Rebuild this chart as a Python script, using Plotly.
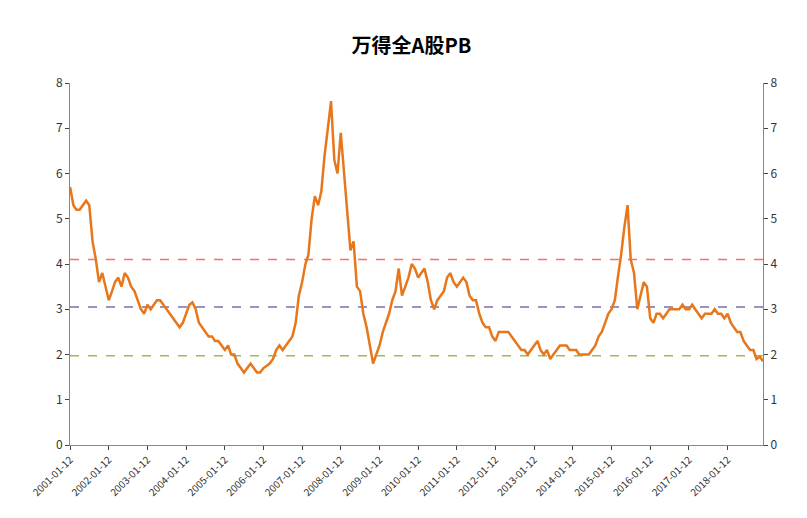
import plotly.graph_objects as go
import pandas as pd

# monthly PB values, 2001-01 .. 2018-12
pb = [
    5.7, 5.3, 5.2, 5.2, 5.3, 5.4, 5.3, 4.5, 4.1, 3.6, 3.8, 3.5,
    3.2, 3.4, 3.6, 3.7, 3.5, 3.8, 3.7, 3.5, 3.4, 3.2, 3.0, 2.9,
    3.1, 3.0, 3.1, 3.2, 3.2, 3.1, 3.0, 2.9, 2.8, 2.7, 2.6, 2.7,
    2.9, 3.1, 3.15, 3.0, 2.7, 2.6, 2.5, 2.4, 2.4, 2.3, 2.3, 2.2,
    2.1, 2.2, 2.0, 2.0, 1.8, 1.7, 1.6, 1.7, 1.8, 1.7, 1.6, 1.6,
    1.7, 1.75, 1.8, 1.9, 2.1, 2.2, 2.1, 2.2, 2.3, 2.4, 2.7, 3.3,
    3.6, 4.0, 4.2, 5.0, 5.5, 5.3, 5.6, 6.4, 7.0, 7.6, 6.3, 6.0,
    6.9, 6.0, 5.0, 4.3, 4.5, 3.5, 3.4, 2.9, 2.6, 2.2, 1.8, 2.0,
    2.2, 2.5, 2.7, 2.9, 3.2, 3.4, 3.9, 3.3, 3.5, 3.7, 4.0, 3.9,
    3.7, 3.8, 3.9, 3.6, 3.2, 3.0, 3.2, 3.3, 3.4, 3.7, 3.8, 3.6,
    3.5, 3.6, 3.7, 3.6, 3.3, 3.2, 3.2, 2.9, 2.7, 2.6, 2.6, 2.4,
    2.3, 2.5, 2.5, 2.5, 2.5, 2.4, 2.3, 2.2, 2.1, 2.1, 2.0, 2.1,
    2.2, 2.3, 2.1, 2.0, 2.1, 1.9, 2.0, 2.1, 2.2, 2.2, 2.2, 2.1,
    2.1, 2.1, 2.0, 2.0, 2.0, 2.0, 2.1, 2.2, 2.4, 2.5, 2.7, 2.9,
    3.0, 3.2, 3.7, 4.2, 4.8, 5.3, 4.1, 3.8, 3.0, 3.3, 3.6, 3.5,
    2.8, 2.7, 2.9, 2.9, 2.8, 2.9, 3.0, 3.0, 3.0, 3.0, 3.1, 3.0,
    3.0, 3.1, 3.0, 2.9, 2.8, 2.9, 2.9, 2.9, 3.0, 2.9, 2.9, 2.8,
    2.9, 2.7, 2.6, 2.5, 2.5, 2.3, 2.2, 2.1, 2.1, 1.9, 1.95, 1.85,
]
dates = pd.date_range("2001-01-01", periods=len(pb), freq="MS") + pd.Timedelta(days=11)
lines = [4.1, 3.05, 1.97]
line_colors = ["#FF6B6B", "#7B6FB0", "#9BBB59"]
tick_years = list(range(2001, 2019))
tick_vals = [f"{y}-01-12" for y in tick_years]
x_start = pd.Timestamp("2001-01-11")

fig = go.Figure()
for v, c in zip(lines, line_colors):
    fig.add_trace(go.Scatter(x=[x_start, dates[-1]], y=[v, v], mode="lines",
                             line=dict(color=c, width=1.5, dash="dash"), showlegend=False))
fig.add_trace(go.Scatter(x=dates, y=pb, mode="lines",
                         line=dict(color="#E8761B", width=2.5), showlegend=False))
fig.add_trace(go.Scatter(x=dates, y=pb, yaxis="y2", mode="lines", opacity=0,
                         showlegend=False, hoverinfo="skip"))

fig.update_layout(
    width=807, height=518, plot_bgcolor="white", paper_bgcolor="white",
    margin=dict(l=62, r=52, t=75, b=81),
    title=dict(text="<b>万得全A股PB</b>", x=0.5, y=0.94, font=dict(size=20, color="black")),
    font=dict(family="Noto Sans CJK SC", size=12, color="#333"),
    xaxis=dict(range=[x_start, dates[-1]], tickvals=tick_vals, ticktext=tick_vals,
               tickangle=-45, tickfont=dict(size=10), showgrid=False, automargin=False,
               showline=True, linecolor="#888", ticks="outside", ticklen=4),
    yaxis=dict(range=[0, 8], dtick=1, showgrid=False, showline=True, linecolor="#888",
               ticks="outside", ticklen=4, automargin=False),
    yaxis2=dict(range=[0, 8], dtick=1, overlaying="y", side="right", showgrid=False,
                showline=True, linecolor="#888", ticks="outside", ticklen=4, automargin=False),
)
fig.write_html("out.html")
